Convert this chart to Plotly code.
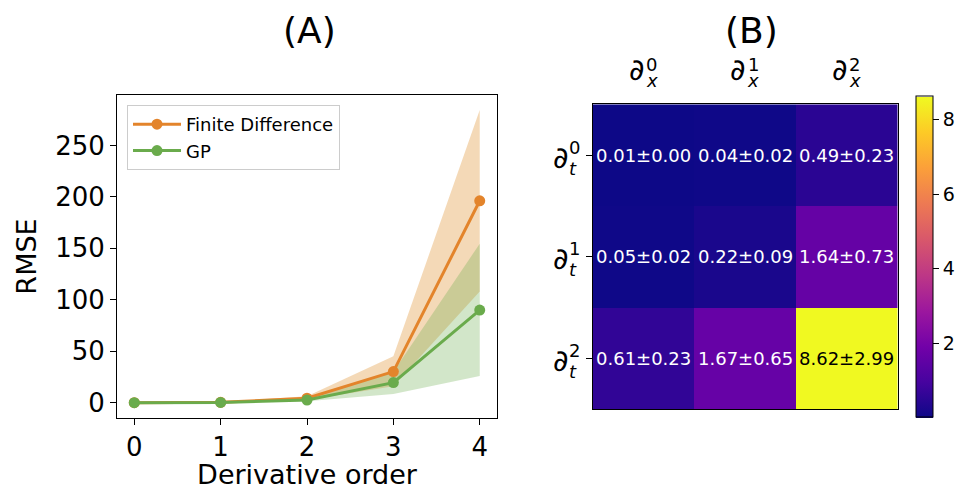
import plotly.graph_objects as go

# ---------------- data ----------------
orders = [0, 1, 2, 3, 4]
fd_mean = [0.0, 0.3, 4.3, 30.2, 196.2]
fd_low = [0.0, 0.1, 2.5, 16.0, 108.0]
fd_high = [0.1, 0.6, 6.2, 45.0, 284.5]
gp_mean = [0.0, 0.2, 2.6, 19.5, 90.0]
gp_low = [0.0, 0.1, 1.3, 8.5, 26.0]
gp_high = [0.1, 0.4, 4.0, 30.0, 154.5]

hm_mean = [[0.01, 0.04, 0.49],
           [0.05, 0.22, 1.64],
           [0.61, 1.67, 8.62]]
hm_std = [[0.00, 0.02, 0.23],
          [0.02, 0.09, 0.73],
          [0.23, 0.65, 2.99]]
col_orders = ["0", "1", "2"]
row_orders = ["0", "1", "2"]
cbar_ticks = [2, 4, 6, 8]
y_ticks = [0, 50, 100, 150, 200, 250]

# ---------------- style ----------------
W, H = 964, 490
FONT = "DejaVu Sans"
ORANGE = "#E3842B"
GREEN = "#6AAB4C"
ORANGE_FILL = "rgba(222,138,30,0.32)"
GREEN_FILL = "rgba(106,171,76,0.30)"

def px_x(p):
    return p / W

def px_y(p):
    return 1 - p / H

fig = go.Figure()

# bands
fig.add_trace(go.Scatter(x=orders, y=fd_low, mode="lines", line=dict(width=0),
                         showlegend=False, hoverinfo="skip", xaxis="x", yaxis="y"))
fig.add_trace(go.Scatter(x=orders, y=fd_high, mode="lines", line=dict(width=0),
                         fill="tonexty", fillcolor=ORANGE_FILL,
                         showlegend=False, hoverinfo="skip", xaxis="x", yaxis="y"))
fig.add_trace(go.Scatter(x=orders, y=gp_low, mode="lines", line=dict(width=0),
                         showlegend=False, hoverinfo="skip", xaxis="x", yaxis="y"))
fig.add_trace(go.Scatter(x=orders, y=gp_high, mode="lines", line=dict(width=0),
                         fill="tonexty", fillcolor=GREEN_FILL,
                         showlegend=False, hoverinfo="skip", xaxis="x", yaxis="y"))
# lines
fig.add_trace(go.Scatter(x=orders, y=fd_mean, mode="lines+markers", name="Finite Difference",
                         line=dict(color=ORANGE, width=3), marker=dict(color=ORANGE, size=11),
                         xaxis="x", yaxis="y"))
fig.add_trace(go.Scatter(x=orders, y=gp_mean, mode="lines+markers", name="GP",
                         line=dict(color=GREEN, width=3), marker=dict(color=GREEN, size=11),
                         xaxis="x", yaxis="y"))

# heatmap
fig.add_trace(go.Heatmap(
    z=hm_mean, x=[0, 1, 2], y=[0, 1, 2], colorscale="Plasma",
    xaxis="x2", yaxis="y2", showscale=True, hoverinfo="skip",
    colorbar=dict(
        x=px_x(916), xanchor="left", xpad=0, ypad=0,
        y=px_y((96.7 + 417.3) / 2), yanchor="middle",
        len=417.3 - 96.7, lenmode="pixels",
        thickness=17, thicknessmode="pixels",
        outlinecolor="black", outlinewidth=1,
        tickvals=cbar_ticks, ticks="outside", ticklen=6, tickcolor="black",
        tickfont=dict(family=FONT, size=19, color="black"),
    ),
))

def ann(**kw):
    d = dict(showarrow=False, xanchor="center", yanchor="middle")
    d.update(kw)
    return d

annotations = []
# cell texts
for i in range(3):
    for j in range(3):
        v = hm_mean[i][j]
        annotations.append(ann(
            x=j, y=i, xref="x2", yref="y2",
            text=f"{v:.2f}±{hm_std[i][j]:.2f}",
            font=dict(family=FONT, size=18, color="black" if v > 5 else "white"),
        ))

# column labels ∂_x^k
for j, k in enumerate(col_orders):
    annotations.append(ann(x=j, y=px_y(70), xref="x2", yref="paper",
                           text="∂", xshift=-7, font=dict(family=FONT, size=30, color="black")))
    annotations.append(ann(x=j, y=px_y(64), xref="x2", yref="paper",
                           text=k, xshift=8, font=dict(family=FONT, size=18, color="black")))
    annotations.append(ann(x=j, y=px_y(81), xref="x2", yref="paper",
                           text="<i>x</i>", xshift=8, font=dict(family=FONT, size=18, color="black")))
# row labels ∂_t^k
for i, k in enumerate(row_orders):
    annotations.append(ann(x=px_x(561), y=i, xref="paper", yref="y2",
                           text="∂", yshift=-2, font=dict(family=FONT, size=30, color="black")))
    annotations.append(ann(x=px_x(574), y=i, xref="paper", yref="y2",
                           text=k, yshift=8, font=dict(family=FONT, size=18, color="black")))
    annotations.append(ann(x=px_x(573), y=i, xref="paper", yref="y2",
                           text="<i>t</i>", yshift=-13, font=dict(family=FONT, size=18, color="black")))

# titles
annotations.append(ann(x=px_x(309), y=px_y(31), xref="paper", yref="paper",
                       text="(A)", font=dict(family=FONT, size=36, color="black")))
annotations.append(ann(x=px_x(751), y=px_y(31), xref="paper", yref="paper",
                       text="(B)", font=dict(family=FONT, size=36, color="black")))

axis_common = dict(showline=True, linecolor="black", linewidth=1, mirror=True,
                   showgrid=False, zeroline=False, ticks="outside", ticklen=6,
                   tickcolor="black", tickfont=dict(family=FONT, size=26, color="black"))

fig.update_layout(
    width=W, height=H, margin=dict(l=0, r=0, t=0, b=0),
    paper_bgcolor="white", plot_bgcolor="white",
    font=dict(family=FONT, color="black"),
    xaxis=dict(domain=[px_x(117), px_x(497)], range=[-0.2, 4.2], tickvals=orders,
               title=dict(text="Derivative order", font=dict(family=FONT, size=27), standoff=8),
               anchor="y", **axis_common),
    yaxis=dict(domain=[px_y(418), px_y(95)], range=[-14.9, 299], tickvals=y_ticks,
               title=dict(text="RMSE", font=dict(family=FONT, size=27), standoff=10),
               anchor="x", **axis_common),
    xaxis2=dict(domain=[px_x(592.7), px_x(897.7)], range=[-0.5, 2.5], anchor="y2",
                showline=True, linecolor="black", linewidth=1, mirror=True,
                showgrid=False, zeroline=False, showticklabels=False, ticks=""),
    yaxis2=dict(domain=[px_y(409.3), px_y(104.3)], range=[2.5, -0.5], anchor="x2",
                showline=True, linecolor="black", linewidth=1, mirror=True,
                showgrid=False, zeroline=False, showticklabels=False,
                tickvals=[0, 1, 2], ticks="outside", ticklen=6, tickcolor="black"),
    legend=dict(x=px_x(127), y=px_y(105), xanchor="left", yanchor="top",
                traceorder="normal", itemwidth=48,
                bgcolor="white", bordercolor="#cccccc", borderwidth=1,
                font=dict(family=FONT, size=18, color="black")),
    annotations=annotations,
)

fig.write_html("out.html", config={"displayModeBar": False},
               post_script="document.body.style.margin='0';document.body.style.padding='0';")
